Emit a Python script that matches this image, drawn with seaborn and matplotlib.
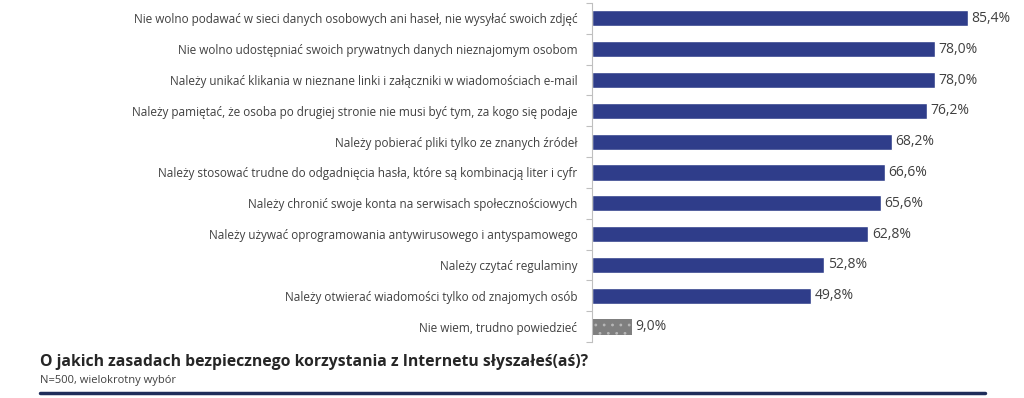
import matplotlib
matplotlib.use('Agg')
import matplotlib.pyplot as plt
import seaborn as sns
import numpy as np
import pandas as pd

# --- Data ---
categories = [
    'Nie wolno podawać w sieci danych osobowych ani haseł, nie wysyłać swoich zdjęć',
    'Nie wolno udostępniać swoich prywatnych danych nieznajomym osobom',
    'Należy unikać klikania w nieznane linki i załączniki w wiadomościach e-mail',
    'Należy pamiętać, że osoba po drugiej stronie nie musi być tym, za kogo się podaje',
    'Należy pobierać pliki tylko ze znanych źródeł',
    'Należy stosować trudne do odgadnięcia hasła, które są kombinacją liter i cyfr',
    'Należy chronić swoje konta na serwisach społecznościowych',
    'Należy używać oprogramowania antywirusowego i antyspamowego',
    'Należy czytać regulaminy',
    'Należy otwierać wiadomości tylko od znajomych osób',
    'Nie wiem, trudno powiedzieć',
]
values = [85.4, 78.0, 78.0, 76.2, 68.2, 66.6, 65.6, 62.8, 52.8, 49.8, 9.0]
title = 'O jakich zasadach bezpiecznego korzystania z Internetu słyszałeś(aś)?'
subtitle = 'N=500, wielokrotny wybór'

NAVY = '#2F3D8A'
GRAY = '#7F7F7F'
TEXT = '#404040'
palette = [NAVY] * (len(categories) - 1) + [GRAY]

df = pd.DataFrame({'category': categories, 'value': values})

sns.set_style('white')
plt.rcParams['font.family'] = ['Open Sans', 'DejaVu Sans']
plt.rcParams['hatch.linewidth'] = 0.8

fig = plt.figure(figsize=(10.24, 3.98), dpi=100)
ax = fig.add_axes([592 / 1024, 1 - 342 / 398, 418 / 1024, 339 / 398])

sns.barplot(data=df, y='category', x='value', hue='category', palette=palette,
            legend=False, orient='h', width=0.52, ax=ax, saturation=1)

# dotted pattern on the "don't know" bar
last = ax.patches[-1]
last.set_hatch('..')
last.set_edgecolor('#B8B8B8')
last.set_linewidth(0)

for bar, v in zip(ax.patches, values):
    ax.text(bar.get_width() + 0.8, bar.get_y() + bar.get_height() / 2,
            f'{v:.1f}%'.replace('.', ','), va='center', ha='left',
            fontsize=10, color=TEXT)

ax.set_xlim(0, 95)
ax.set_ylim(len(categories) - 0.5, -0.5)
ax.set_xlabel('')
ax.set_ylabel('')
ax.set_xticks([])
ax.tick_params(axis='y', which='major', left=False, labelsize=8.5,
               labelcolor=TEXT, pad=7)
ax.set_yticks(np.arange(-0.5, len(categories) + 0.5, 1), minor=True)
ax.tick_params(axis='y', which='minor', left=True, length=4,
               color='#BFBFBF', width=0.8)
for s in ['top', 'right', 'bottom']:
    ax.spines[s].set_visible(False)
ax.spines['left'].set_color('#BFBFBF')
ax.spines['left'].set_linewidth(0.8)

fig.text(40 / 1024, 1 - 362 / 398, title, fontsize=11.3, fontweight='bold',
         color='#262626', va='center', ha='left')
fig.text(40 / 1024, 1 - 381 / 398, subtitle, fontsize=8, color=TEXT,
         va='center', ha='left')
fig.add_artist(plt.Line2D([40 / 1024, 985 / 1024], [1 - 393 / 398] * 2,
                          color='#1F2D5A', linewidth=2.5))

fig.savefig('out.png', dpi=100, facecolor='white')
